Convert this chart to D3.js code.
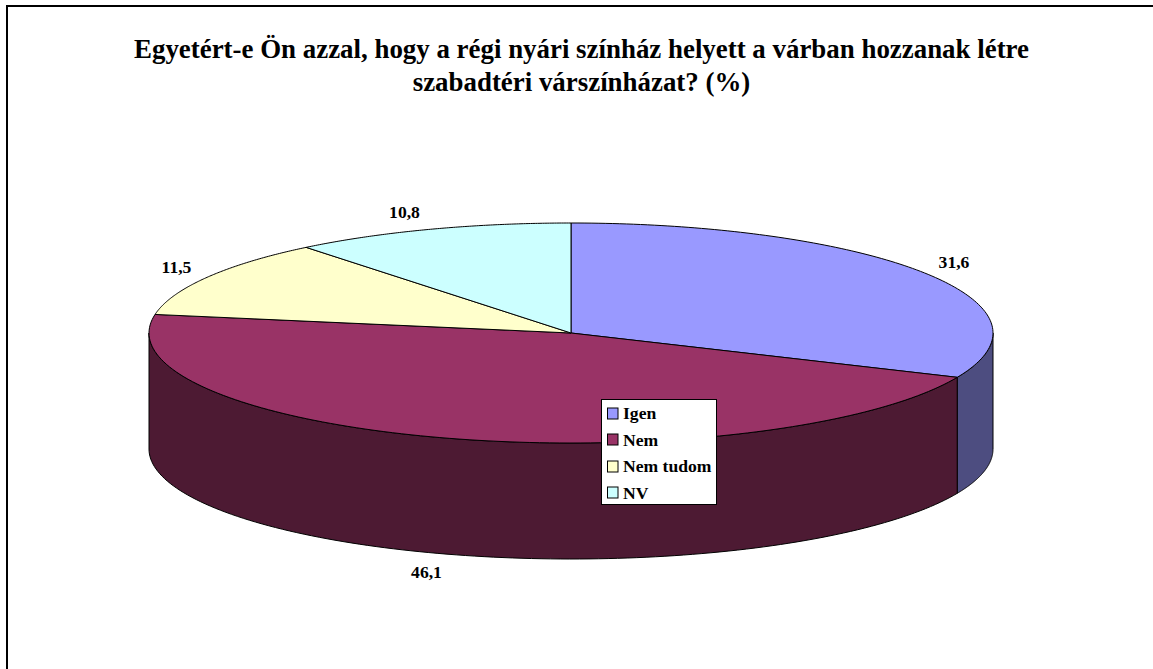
<!DOCTYPE html>
<html><head><meta charset="utf-8">
<script src="https://cdn.jsdelivr.net/npm/d3@7/dist/d3.min.js"></script>
<style>html,body{margin:0;padding:0;background:#fff;overflow:hidden}svg{display:block}
text{font-family:"Liberation Serif","Times New Roman",serif;font-weight:bold;fill:#000}</style>
</head><body><svg id="c" width="1153" height="669"></svg>
<script>
const categories=["Igen","Nem","Nem tudom","NV"];
const values=[31.6,46.1,11.5,10.8];
const labels=["31,6","46,1","11,5","10,8"];
const topColors=["#9999FF","#993366","#FFFFCC","#CCFFFF"];
const sideColors=["#4D4D80","#4D1A33","#808066","#668080"];
const titleLines=["Egyetért-e Ön azzal, hogy a régi nyári színház helyett a várban hozzanak létre","szabadtéri várszínházat? (%)"];
const labelPos=[[954,268],[426.5,578],[176.5,273],[404.5,218]];

const cx=571,cy=333,rx=422,ry=110,depth=116;
const svg=d3.select("#c");
svg.append("rect").attr("x",7).attr("y",6).attr("width",1200).attr("height",720)
  .attr("fill","#fff").attr("stroke","#000").attr("stroke-width",2);

const pie=d3.pie().sort(null).value(d=>d)(values);
const X=a=>cx+rx*Math.sin(a), Y=a=>cy-ry*Math.cos(a);
const samples=(a0,a1)=>d3.range(0,121).map(i=>a0+(a1-a0)*i/120);
const line=d3.line().x(p=>p[0]).y(p=>p[1]);
const rim=(a0,a1,dy)=>samples(a0,a1).map(a=>[X(a),Y(a)+dy]);

// side walls (front half only)
pie.forEach((s,i)=>{
  const a0=Math.max(s.startAngle,Math.PI/2),a1=Math.min(s.endAngle,3*Math.PI/2);
  if(a1<=a0)return;
  const pts=rim(a0,a1,0).concat(rim(a0,a1,depth).reverse());
  svg.append("path").attr("d",line(pts)+"Z").attr("fill",sideColors[i]).attr("stroke","#000").attr("stroke-width",1);
});
// top slices
pie.forEach((s,i)=>{
  const pts=[[cx,cy]].concat(rim(s.startAngle,s.endAngle,0));
  svg.append("path").attr("d",line(pts)+"Z").attr("fill",topColors[i]).attr("stroke","#000").attr("stroke-width",1).attr("stroke-linejoin","round");
});
// title
svg.selectAll("text.t").data(titleLines).join("text").attr("class","t")
  .attr("x",581.5).attr("y",(d,i)=>58+i*32.5).attr("text-anchor","middle").attr("font-size",26.9).text(d=>d);
// data labels
svg.selectAll("text.l").data(labels).join("text").attr("class","l")
  .attr("x",(d,i)=>labelPos[i][0]).attr("y",(d,i)=>labelPos[i][1]).attr("text-anchor","middle").attr("font-size",17.6).text(d=>d);
// legend
const lg=svg.append("g").attr("transform","translate(601.5,399.5)");
lg.append("rect").attr("width",115).attr("height",105).attr("fill","#fff").attr("stroke","#000").attr("stroke-width",1);
const y=d3.scalePoint().domain(categories).range([13.5,93]);
categories.forEach((c,i)=>{
  lg.append("rect").attr("x",6).attr("y",Math.round(y(c))-5.5).attr("width",10.5).attr("height",11).attr("fill",topColors[i]).attr("stroke","#000");
  lg.append("text").attr("x",21.5).attr("y",y(c)+6).attr("font-size",17.6).text(c);
});
</script></body></html>
